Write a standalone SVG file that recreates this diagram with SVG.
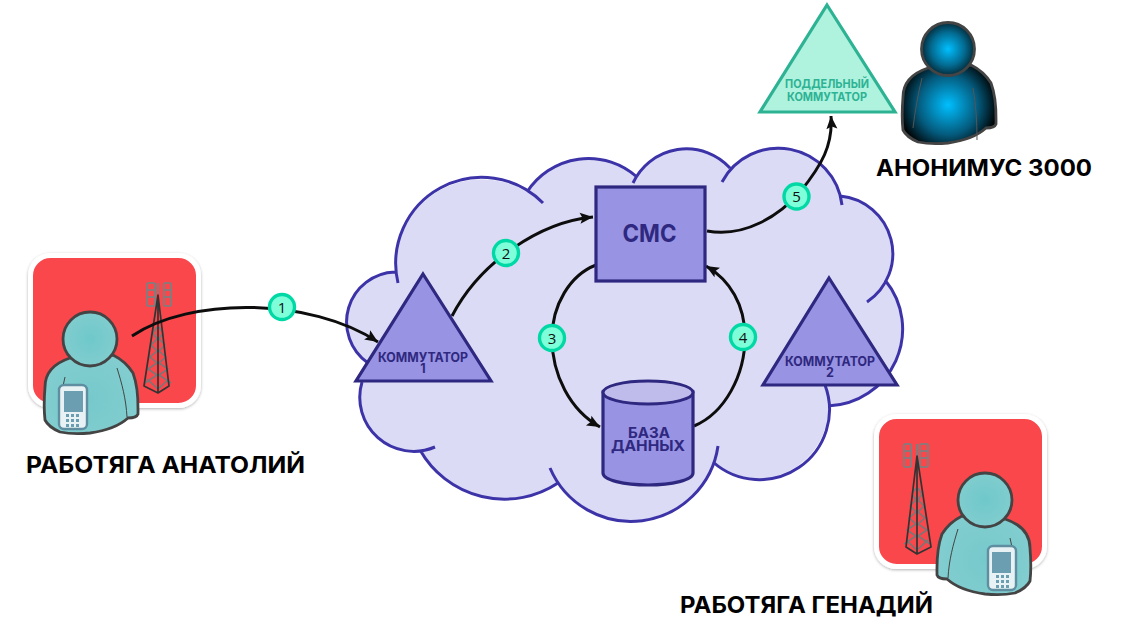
<svg xmlns="http://www.w3.org/2000/svg" width="1132" height="638" viewBox="0 0 1132 638">
<style>
text{font-family:"Inter","Roboto","Liberation Sans",sans-serif;font-weight:700;text-anchor:middle}
.lbl{font-size:23px;fill:#000}
.net{fill:#9893E2;stroke:#2F2880;stroke-width:3.2;stroke-linejoin:miter}
.nt{fill:#2F2880}
.cl{fill:none;stroke:#3D33A8;stroke-width:3;stroke-linecap:butt}
.cn{fill:none;stroke:#0d0d0d;stroke-width:3}
.bd{fill:#7FFFD9;stroke:#00D9A5;stroke-width:3.4}
.bt{font-family:"Open Sans","DejaVu Sans",sans-serif;font-weight:400;font-size:15px;fill:#111}
.out{stroke:#444;stroke-width:2.8}
.arm{fill:none;stroke:#444;stroke-width:1}
.ant{fill:none;stroke:#6F8587;stroke-width:1.6}
.twr{fill:none;stroke:#333;stroke-width:1.7;stroke-linejoin:round}
.lat{fill:none;stroke:#777;stroke-width:1.6}
.key{fill:#6A9EB0}
</style>
<defs>
<marker id="ah" markerUnits="userSpaceOnUse" markerWidth="15" markerHeight="13" viewBox="0 0 15 13" refX="14" refY="6.500" orient="auto">
<path d="M1,1 L14,6.500 L1,12 L3.500,6.500 Z" fill="#0d0d0d"/>
</marker>
<radialGradient id="teal" gradientUnits="userSpaceOnUse" cx="0" cy="0" r="30"><stop offset="0" stop-color="#6FC8CA"/><stop offset="1" stop-color="#82CDCF"/></radialGradient>
<radialGradient id="teal2" gradientUnits="userSpaceOnUse" cx="0" cy="60" r="50"><stop offset="0" stop-color="#76C9CB"/><stop offset="1" stop-color="#82CDCF"/></radialGradient>
<radialGradient id="dk1" gradientUnits="userSpaceOnUse" cx="0" cy="0" r="28"><stop offset="0" stop-color="#00BFFF"/><stop offset=".6" stop-color="#036A90"/><stop offset="1" stop-color="#04222E"/></radialGradient>
<radialGradient id="dk2" gradientUnits="userSpaceOnUse" cx="0" cy="56" r="50"><stop offset="0" stop-color="#00BFFF"/><stop offset=".6" stop-color="#045A7C"/><stop offset="1" stop-color="#000"/></radialGradient>
<filter id="sh" x="-10%" y="-10%" width="120%" height="125%"><feDropShadow dx="0" dy="1" stdDeviation="1.6" flood-color="#000" flood-opacity=".3"/></filter>
<path id="bodyP" d="M-20,19 C-35,24 -45,33 -45,48 C-46,60 -46,72 -45,81 C-42,87 -37,90 -30,93 C-20,95 -10,95 0,94 C15,92 28,88 38,79 C42,79 47,78 48,75 C48,65 49,50 43,34 C38,26 31,20 23,16 Z"/>
<g id="worker">
<rect x="-59.500" y="-83.500" width="168" height="150" rx="20" fill="#FA464C" stroke="#fff" stroke-width="5" filter="url(#sh)"/>
<g>
<path class="ant" d="M58,-56 h6 a1,1 0 0 1 1,1 v21 a1,1 0 0 1 -1,1 h-6 a1,1 0 0 1 -1,-1 v-21 a1,1 0 0 1 1,-1 Z M57,-49 h8 M57,-42 h8 M75,-56 h5 a1,1 0 0 1 1,1 v21 a1,1 0 0 1 -1,1 h-5 a1,1 0 0 1 -1,-1 v-21 a1,1 0 0 1 1,-1 Z M74,-49 h7 M74,-42 h7 M68,-56 v12"/>
<path class="lat" d="M55,44 L67,36 L58,30 L67,24 L60,18 L67,12 L61,6 L67,0 L63,-6 L67,-12 M81,44 L69,36 L78,30 L69,24 L76,18 L69,12 L75,6 L69,0 L73,-6 L69,-12 M57,40 L68,50 L79,40"/>
<path class="twr" d="M68,-44 L54,47 L68,54 L79,47 Z M68,-44 V54"/>
</g>
<use href="#bodyP" fill="url(#teal2)" class="out"/>
<circle r="27" fill="url(#teal)" class="out"/>
<path class="arm" d="M27,29 C32,45 36,60 37,78 M-25,38 L-27,47"/>
<rect x="-31" y="46" width="28" height="44" rx="5" fill="#E8F2F5" stroke="#5E8EA0" stroke-width="2.400"/>
<rect x="-26" y="52" width="19" height="21" fill="#6A9EB0"/>
<g class="key"><rect x="-24" y="75" width="3" height="3"/><rect x="-19" y="75" width="3" height="3"/><rect x="-14" y="75" width="3" height="3"/><rect x="-24" y="80" width="3" height="3"/><rect x="-19" y="80" width="3" height="3"/><rect x="-14" y="80" width="3" height="3"/><rect x="-24" y="85" width="3" height="3"/><rect x="-19" y="85" width="3" height="3"/><rect x="-14" y="85" width="3" height="3"/></g>
</g>
</defs>

<g id="cloud">
<path fill="#DBDBF5" d="M368,363 A50,50 0 0 1 395,272 L396,270 A86,86 0 0 1 527,192 A73,73 0 0 1 637,177 L633,183 A59,59 0 0 1 730,168 A64,64 0 0 1 840,196 A58,58 0 0 1 885,280 A77,77 0 0 1 828,406 A70,70 0 0 1 713,462 A88,88 0 0 1 558,483 A97,97 0 0 1 420,450 A54,54 0 0 1 362,382 Z"/>
<path class="cl" d="M368,363 A50,50 0 0 1 395,272 M398,283 A86,86 0 0 1 543,203 M527,192 A73,73 0 0 1 637,177 M633,183 A59,59 0 0 1 730,168 M722,182 A64,64 0 0 1 842,205 M840,196 A58,58 0 0 1 867,302 M885,280 A77,77 0 0 1 828,406 M825,385 A70,70 0 0 1 713,462 M718,446 A88,88 0 0 1 550,468 M558,483 A97,97 0 0 1 420,450 M435,447 A54,54 0 0 1 362,382"/>
</g>

<g id="worker-anatoly"><use href="#worker" transform="translate(90,339)"/></g>
<g id="worker-genady"><use href="#worker" transform="translate(985,500) scale(-1,1)"/></g>

<g id="anon" transform="translate(948,49)">
<use href="#bodyP" fill="url(#dk2)" class="out"/>
<circle r="26.500" fill="url(#dk1)" class="out"/>
<path d="M-26,29 C-30,45 -33,62 -35,79 M25,39 C28,56 29,73 29,91" fill="none" stroke="#555" stroke-width="1"/>
</g>

<g id="connectors">
<path class="cn" marker-end="url(#ah)" d="M132,336 C190,297 310,297 378,342"/>
<path class="cn" marker-end="url(#ah)" d="M452,316 C480,262 540,222 593,217"/>
<path class="cn" marker-end="url(#ah)" d="M596,265 C570,275 552,305 552,338 C552,375 570,410 600,427"/>
<path class="cn" marker-end="url(#ah)" d="M694,426 C725,413 745,375 745,337 C745,305 730,280 706,266"/>
<path class="cn" marker-end="url(#ah)" d="M707,231 C745,238 780,215 800,192 C822,165 833,145 831,116"/>
</g>

<g id="switch-1"><path class="net" d="M423,274 L491,381 H356 Z"/><text class="nt" x="423" y="362" font-size="12.500" textLength="90" lengthAdjust="spacingAndGlyphs">КОММУТАТОР</text><text class="nt" x="423" y="373" font-size="12.500">1</text></g>
<g id="switch-2"><path class="net" d="M829,278 L897,385 H763 Z"/><text class="nt" x="830" y="366" font-size="12.500" textLength="90" lengthAdjust="spacingAndGlyphs">КОММУТАТОР</text><text class="nt" x="830" y="377" font-size="12.500">2</text></g>
<g id="fake-switch"><path d="M827,5 L895,112 H760 Z" fill="#AFF2DE" stroke="#2DB394" stroke-width="3.200"/><text x="827" y="88" font-size="11.500" fill="#2DB394" textLength="84" lengthAdjust="spacingAndGlyphs">ПОДДЕЛЬНЫЙ</text><text x="827" y="101" font-size="11.500" fill="#2DB394" textLength="80" lengthAdjust="spacingAndGlyphs">КОММУТАТОР</text></g>
<g id="sms"><rect class="net" x="596" y="187" width="109" height="94"/><text class="nt" x="649.500" y="242" font-size="24" textLength="54" lengthAdjust="spacingAndGlyphs">СМС</text></g>
<g id="db">
<path class="net" d="M603,392 V473 C603,480 624,485 648,485 C672,485 693,480 693,473 V392 Z"/>
<ellipse cx="648" cy="392.500" rx="45" ry="11.500" fill="#BFBCEC" stroke="#2F2880" stroke-width="3"/>
<text class="nt" x="649" y="438" font-size="15" textLength="42" lengthAdjust="spacingAndGlyphs">БАЗА</text><text class="nt" x="648" y="451" font-size="15" textLength="74" lengthAdjust="spacingAndGlyphs">ДАННЫХ</text>
</g>

<g id="badges">
<g id="b1"><circle class="bd" cx="282" cy="307" r="12.500"/><text class="bt" x="282" y="312.500">1</text></g>
<g id="b2"><circle class="bd" cx="506" cy="253" r="12.500"/><text class="bt" x="506" y="258.500">2</text></g>
<g id="b3"><circle class="bd" cx="552" cy="338" r="12.500"/><text class="bt" x="552" y="343.500">3</text></g>
<g id="b4"><circle class="bd" cx="743" cy="337" r="12.500"/><text class="bt" x="743" y="342.500">4</text></g>
<g id="b5"><circle class="bd" cx="796.500" cy="196.500" r="12.500"/><text class="bt" x="796.500" y="202">5</text></g>
</g>

<g id="labels">
<text class="lbl" x="165.500" y="473" textLength="279" lengthAdjust="spacingAndGlyphs">РАБОТЯГА АНАТОЛИЙ</text>
<text class="lbl" x="806.500" y="613" textLength="253" lengthAdjust="spacingAndGlyphs">РАБОТЯГА ГЕНАДИЙ</text>
<text class="lbl" x="984" y="176" textLength="216" lengthAdjust="spacingAndGlyphs">АНОНИМУС 3000</text>
</g>
</svg>
